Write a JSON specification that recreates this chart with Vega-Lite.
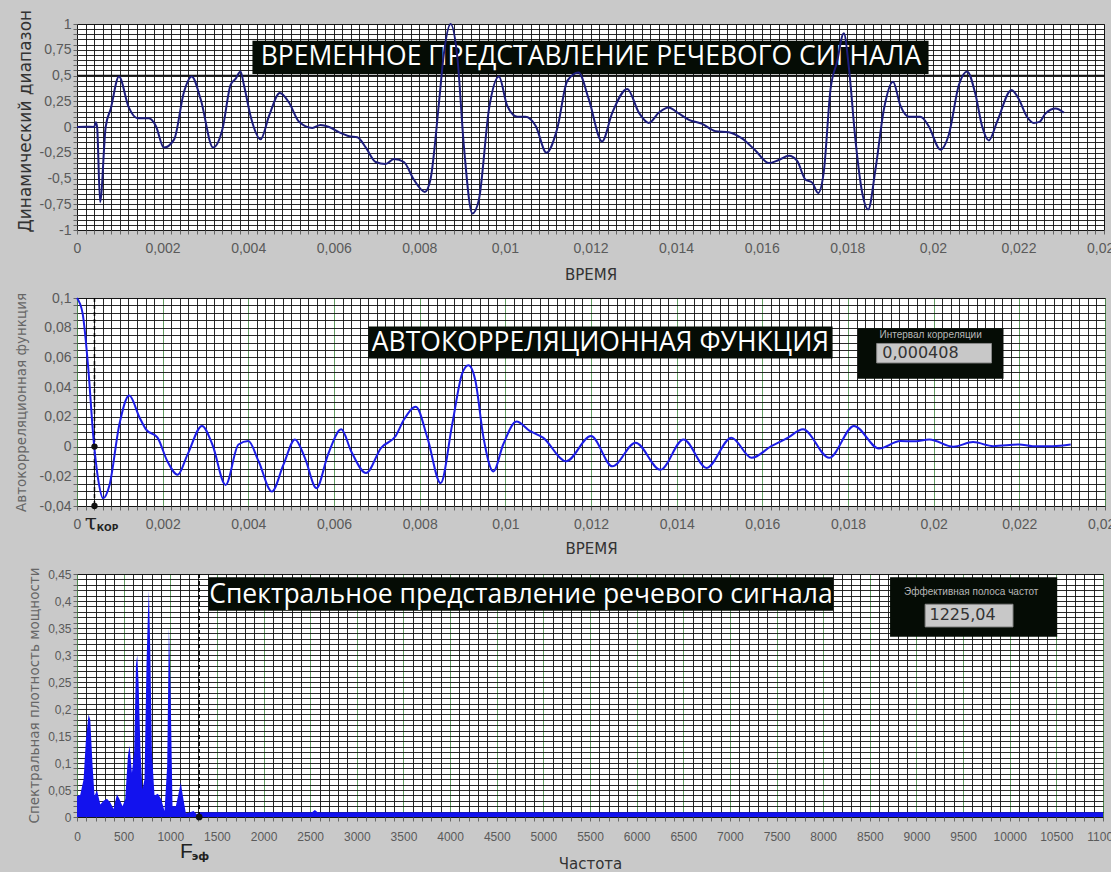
{
  "$schema": "https://vega.github.io/schema/vega-lite/v6.json",
  "background": "#c9c9c9",
  "padding": {"left": 13, "top": 8, "right": 0, "bottom": 0},
  "bounds": "flush",
  "spacing": 68,
  "config": {
    "view": {"fill": "white", "stroke": "#444", "strokeWidth": 1},
    "axis": {
      "grid": true, "gridColor": "#111", "gridOpacity": 0.9, "gridWidth": 1,
      "domain": false, "tickColor": "#666", "tickSize": 4, "labelPadding": 7,
      "labelColor": "#5a5a5a", "labelFont": "Liberation Sans", "labelFontSize": 14,
      "titleFont": "DejaVu Sans", "titleColor": "#333", "titleFontWeight": "normal", "titleFontSize": 15,
      "labelOverlap": false, "labelFlush": false, "labelBound": false
    },
    "text": {"font": "Open Sans"}
  },
  "datasets": {
    "wave": [
      {"t": 0, "v": 0}, {"t": 0.0002, "v": 0.003}, {"t": 0.0004, "v": 0.0}, {"t": 0.00044, "v": 0.046}, {"t": 0.00047, "v": 0.0},
      {"t": 0.00054, "v": -0.73}, {"t": 0.00067, "v": 0.0}, {"t": 0.00079, "v": 0.18}, {"t": 0.00098, "v": 0.49}, {"t": 0.00121, "v": 0.19},
      {"t": 0.00141, "v": 0.085}, {"t": 0.00168, "v": 0.085}, {"t": 0.00184, "v": 0.013}, {"t": 0.00203, "v": -0.2}, {"t": 0.00227, "v": -0.12},
      {"t": 0.0025, "v": 0.34}, {"t": 0.00268, "v": 0.49}, {"t": 0.00289, "v": 0.27}, {"t": 0.00318, "v": -0.2}, {"t": 0.0034, "v": -0.02},
      {"t": 0.00359, "v": 0.41}, {"t": 0.00371, "v": 0.47}, {"t": 0.00382, "v": 0.54}, {"t": 0.0039, "v": 0.41}, {"t": 0.00406, "v": 0.1},
      {"t": 0.00429, "v": -0.12}, {"t": 0.00449, "v": 0.11}, {"t": 0.00474, "v": 0.33}, {"t": 0.00495, "v": 0.24}, {"t": 0.00519, "v": 0.05},
      {"t": 0.0055, "v": -0.01}, {"t": 0.00569, "v": 0.02}, {"t": 0.00589, "v": 0.0}, {"t": 0.00612, "v": -0.05}, {"t": 0.00636, "v": -0.09},
      {"t": 0.00655, "v": -0.1}, {"t": 0.00675, "v": -0.2}, {"t": 0.00698, "v": -0.34}, {"t": 0.00721, "v": -0.36}, {"t": 0.00741, "v": -0.31},
      {"t": 0.00764, "v": -0.34}, {"t": 0.00787, "v": -0.51}, {"t": 0.00813, "v": -0.63}, {"t": 0.00826, "v": -0.51}, {"t": 0.00846, "v": 0.24},
      {"t": 0.00857, "v": 0.7}, {"t": 0.00873, "v": 1.0}, {"t": 0.00889, "v": 0.67}, {"t": 0.00904, "v": -0.18}, {"t": 0.00924, "v": -0.84},
      {"t": 0.00939, "v": -0.71}, {"t": 0.00963, "v": 0.18}, {"t": 0.00986, "v": 0.49}, {"t": 0.01005, "v": 0.21}, {"t": 0.01029, "v": 0.1},
      {"t": 0.01048, "v": 0.1}, {"t": 0.01072, "v": 0.01}, {"t": 0.01097, "v": -0.25}, {"t": 0.01122, "v": -0.02}, {"t": 0.01146, "v": 0.45},
      {"t": 0.01172, "v": 0.53}, {"t": 0.01196, "v": 0.27}, {"t": 0.01227, "v": -0.14}, {"t": 0.01251, "v": 0.14}, {"t": 0.01286, "v": 0.37},
      {"t": 0.01313, "v": 0.14}, {"t": 0.01336, "v": 0.04}, {"t": 0.0136, "v": 0.14}, {"t": 0.01382, "v": 0.19}, {"t": 0.01407, "v": 0.13},
      {"t": 0.0143, "v": 0.07}, {"t": 0.01461, "v": 0.03}, {"t": 0.01492, "v": -0.04}, {"t": 0.01523, "v": -0.05}, {"t": 0.01554, "v": -0.11},
      {"t": 0.01586, "v": -0.23}, {"t": 0.01617, "v": -0.35}, {"t": 0.0164, "v": -0.32}, {"t": 0.01664, "v": -0.28}, {"t": 0.01683, "v": -0.33},
      {"t": 0.01702, "v": -0.51}, {"t": 0.01718, "v": -0.54}, {"t": 0.01732, "v": -0.64}, {"t": 0.01745, "v": -0.44}, {"t": 0.01761, "v": 0.37},
      {"t": 0.01776, "v": 0.63}, {"t": 0.01792, "v": 0.91}, {"t": 0.01804, "v": 0.57}, {"t": 0.01819, "v": -0.12}, {"t": 0.01835, "v": -0.64},
      {"t": 0.01849, "v": -0.8}, {"t": 0.01866, "v": -0.41}, {"t": 0.01886, "v": 0.18}, {"t": 0.01907, "v": 0.44}, {"t": 0.01924, "v": 0.21},
      {"t": 0.01944, "v": 0.1}, {"t": 0.01971, "v": 0.1}, {"t": 0.0199, "v": 0.01}, {"t": 0.02018, "v": -0.22}, {"t": 0.02037, "v": -0.08},
      {"t": 0.02061, "v": 0.41}, {"t": 0.0208, "v": 0.54}, {"t": 0.021, "v": 0.31}, {"t": 0.02115, "v": 0.01}, {"t": 0.02131, "v": -0.13},
      {"t": 0.0215, "v": 0.05}, {"t": 0.02184, "v": 0.36}, {"t": 0.02201, "v": 0.27}, {"t": 0.0222, "v": 0.1}, {"t": 0.02236, "v": 0.04},
      {"t": 0.02249, "v": 0.05}, {"t": 0.02263, "v": 0.13}, {"t": 0.02287, "v": 0.18}, {"t": 0.02306, "v": 0.14}
    ],
    "acf": [
      {"t": 0, "v": 0.1}, {"t": 0.00013, "v": 0.0898}, {"t": 0.00026, "v": 0.0536}, {"t": 0.00039, "v": 0.0037}, {"t": 0.00049, "v": -0.0212},
      {"t": 0.00061, "v": -0.0348}, {"t": 0.00076, "v": -0.0258}, {"t": 0.00099, "v": 0.015}, {"t": 0.00122, "v": 0.0343}, {"t": 0.00146, "v": 0.0196},
      {"t": 0.00161, "v": 0.0116}, {"t": 0.00188, "v": 0.006}, {"t": 0.00211, "v": -0.0099}, {"t": 0.00235, "v": -0.019}, {"t": 0.00258, "v": -0.0054},
      {"t": 0.00292, "v": 0.0139}, {"t": 0.00316, "v": 0.0014}, {"t": 0.00347, "v": -0.0258}, {"t": 0.00377, "v": 0.0014}, {"t": 0.004, "v": 0.0037},
      {"t": 0.00424, "v": -0.0099}, {"t": 0.00455, "v": -0.0303}, {"t": 0.00482, "v": -0.0122}, {"t": 0.00509, "v": 0.0048}, {"t": 0.00532, "v": -0.0076},
      {"t": 0.00559, "v": -0.028}, {"t": 0.00586, "v": -0.0054}, {"t": 0.00617, "v": 0.0116}, {"t": 0.0064, "v": -0.0031}, {"t": 0.00675, "v": -0.0178},
      {"t": 0.0071, "v": -0.0008}, {"t": 0.00744, "v": 0.0071}, {"t": 0.00764, "v": 0.0185}, {"t": 0.00791, "v": 0.0268}, {"t": 0.00818, "v": 0.006},
      {"t": 0.00849, "v": -0.0246}, {"t": 0.00876, "v": 0.015}, {"t": 0.00899, "v": 0.049}, {"t": 0.00914, "v": 0.0547}, {"t": 0.0093, "v": 0.0445},
      {"t": 0.00949, "v": 0.006}, {"t": 0.00972, "v": -0.0167}, {"t": 0.00995, "v": 0.0014}, {"t": 0.01026, "v": 0.0168}, {"t": 0.01057, "v": 0.0105},
      {"t": 0.01088, "v": 0.006}, {"t": 0.01142, "v": -0.0099}, {"t": 0.012, "v": 0.0071}, {"t": 0.0125, "v": -0.0133}, {"t": 0.01304, "v": 0.0026},
      {"t": 0.01362, "v": -0.0156}, {"t": 0.01416, "v": 0.0048}, {"t": 0.0147, "v": -0.0144}, {"t": 0.01528, "v": 0.006}, {"t": 0.01575, "v": -0.0076},
      {"t": 0.01621, "v": 0.0003}, {"t": 0.0166, "v": 0.006}, {"t": 0.01695, "v": 0.0116}, {"t": 0.01756, "v": -0.0076}, {"t": 0.01814, "v": 0.0139},
      {"t": 0.01872, "v": -0.0013}, {"t": 0.01922, "v": 0.0037}, {"t": 0.01953, "v": 0.0035}, {"t": 0.0199, "v": 0.0048}, {"t": 0.02046, "v": -0.0001},
      {"t": 0.02092, "v": 0.003}, {"t": 0.02139, "v": 0.0003}, {"t": 0.022, "v": 0.0014}, {"t": 0.02231, "v": 0.0003}, {"t": 0.02278, "v": 0.0003},
      {"t": 0.0232, "v": 0.0014}
    ],
    "acfmarks": [{"t": 0.000408, "v": 0}, {"t": 0.000408, "v": -0.04}],
    "spec": [
      {"f": 0, "v": 0.039}, {"f": 35, "v": 0.041}, {"f": 71, "v": 0.07}, {"f": 96, "v": 0.145}, {"f": 124, "v": 0.19},
      {"f": 142, "v": 0.18}, {"f": 167, "v": 0.095}, {"f": 188, "v": 0.039}, {"f": 214, "v": 0.05}, {"f": 250, "v": 0.023},
      {"f": 285, "v": 0.03}, {"f": 321, "v": 0.034}, {"f": 357, "v": 0.027}, {"f": 392, "v": 0.015}, {"f": 428, "v": 0.042},
      {"f": 456, "v": 0.033}, {"f": 488, "v": 0.02}, {"f": 517, "v": 0.033}, {"f": 546, "v": 0.113}, {"f": 563, "v": 0.132},
      {"f": 589, "v": 0.082}, {"f": 613, "v": 0.12}, {"f": 632, "v": 0.282}, {"f": 646, "v": 0.3}, {"f": 660, "v": 0.25},
      {"f": 681, "v": 0.12}, {"f": 702, "v": 0.051}, {"f": 724, "v": 0.07}, {"f": 745, "v": 0.282}, {"f": 760, "v": 0.375},
      {"f": 771, "v": 0.419}, {"f": 785, "v": 0.313}, {"f": 803, "v": 0.12}, {"f": 831, "v": 0.04}, {"f": 867, "v": 0.043},
      {"f": 903, "v": 0.033}, {"f": 938, "v": 0.011}, {"f": 967, "v": 0.095}, {"f": 985, "v": 0.35}, {"f": 1002, "v": 0.25},
      {"f": 1024, "v": 0.02}, {"f": 1060, "v": 0.02}, {"f": 1088, "v": 0.043}, {"f": 1113, "v": 0.064}, {"f": 1135, "v": 0.039},
      {"f": 1167, "v": 0.007}, {"f": 1213, "v": 0.009}, {"f": 1249, "v": 0.011}, {"f": 1285, "v": 0.005}, {"f": 1310, "v": 0.009},
      {"f": 2000, "v": 0.009}, {"f": 2520, "v": 0.009}, {"f": 2550, "v": 0.013}, {"f": 2580, "v": 0.009}, {"f": 4000, "v": 0.009},
      {"f": 6000, "v": 0.009}, {"f": 8000, "v": 0.009}, {"f": 11000, "v": 0.009}
    ],
    "specmarks": [{"f": 1310, "v": 0}]
  },
  "vconcat": [
    {
      "width": 1027, "height": 206,
      "layer": [
        {"data": {"values": [{}]}, "mark": {"type": "rule", "color": "#111", "strokeWidth": 1.5},
         "encoding": {"y": {"datum": 0.5, "type": "quantitative"}}},
        {"data": {"values": [{}]}, "mark": {"type": "rect", "color": "#050c05"},
         "encoding": {"x": {"datum": 0.0041, "type": "quantitative"}, "x2": {"datum": 0.0199}, "y": {"datum": 0.838, "type": "quantitative"}, "y2": {"datum": 0.515}}},
        {"data": {"values": [{}]}, "mark": {"type": "text", "text": "ВРЕМЕННОЕ ПРЕДСТАВЛЕНИЕ РЕЧЕВОГО СИГНАЛА", "color": "white", "fontSize": 26.5, "align": "center", "baseline": "middle"},
         "encoding": {"x": {"datum": 0.01201, "type": "quantitative"}, "y": {"datum": 0.675, "type": "quantitative"}}},
        {"data": {"name": "wave"}, "mark": {"type": "line", "color": "#1c1c7c", "strokeWidth": 2, "interpolate": "monotone"},
         "encoding": {
           "x": {"field": "t", "type": "quantitative", "scale": {"domain": [0, 0.024], "nice": false, "zero": false},
                 "axis": {"title": "ВРЕМЯ", "tickCount": 120, "titlePadding": 12,
                          "labelExpr": "abs(datum.value*500 - round(datum.value*500)) < 1e-6 ? replace(toString(datum.value), '.', ',') : ''"}},
           "y": {"field": "v", "type": "quantitative", "scale": {"domain": [-1, 1], "nice": false},
                 "axis": {"title": "Динамический диапазон", "tickCount": 40, "labelPadding": 2, "titleFontSize": 17,
                          "titleX": -52, "titleY": 208, "titleAlign": "left", "titleBaseline": "middle", "titleAngle": -90,
                          "labelExpr": "abs(datum.value*4 - round(datum.value*4)) < 1e-6 ? replace(toString(datum.value), '.', ',') : ''"}}
         }}
      ]
    },
    {
      "width": 1028, "height": 208,
      "layer": [
        {"data": {"values": [{}]}, "mark": {"type": "rule", "color": "#000", "strokeWidth": 1.5, "strokeDash": [4, 3]},
         "encoding": {"x": {"datum": 0.000408, "type": "quantitative"}}},
        {"data": {"values": [{}]}, "mark": {"type": "rect", "color": "#050c05"},
         "encoding": {"x": {"datum": 0.0068, "type": "quantitative"}, "x2": {"datum": 0.01764}, "y": {"datum": 0.0808, "type": "quantitative"}, "y2": {"datum": 0.0592}}},
        {"data": {"values": [{}]}, "mark": {"type": "text", "text": "АВТОКОРРЕЛЯЦИОННАЯ ФУНКЦИЯ", "color": "white", "fontSize": 26.5, "align": "center", "baseline": "middle"},
         "encoding": {"x": {"datum": 0.01222, "type": "quantitative"}, "y": {"datum": 0.0698, "type": "quantitative"}}},
        {"data": {"values": [{}]}, "mark": {"type": "rect", "color": "#050c05"},
         "encoding": {"x": {"datum": 0.01823, "type": "quantitative"}, "x2": {"datum": 0.02163}, "y": {"datum": 0.0796, "type": "quantitative"}, "y2": {"datum": 0.0456}}},
        {"data": {"values": [{}]}, "mark": {"type": "text", "text": "Интервал корреляции", "color": "#b8b8b8", "fontSize": 10, "font": "Liberation Sans", "align": "center", "baseline": "middle"},
         "encoding": {"x": {"datum": 0.01993, "type": "quantitative"}, "y": {"datum": 0.0748, "type": "quantitative"}}},
        {"data": {"values": [{}]}, "mark": {"type": "rect", "color": "#c8c8c8", "stroke": "#888", "strokeWidth": 1},
         "encoding": {"x": {"datum": 0.01867, "type": "quantitative"}, "x2": {"datum": 0.02135}, "y": {"datum": 0.0694, "type": "quantitative"}, "y2": {"datum": 0.0563}}},
        {"data": {"values": [{}]}, "mark": {"type": "text", "text": "0,000408", "color": "#333", "fontSize": 16, "font": "DejaVu Sans", "align": "left", "baseline": "middle"},
         "encoding": {"x": {"datum": 0.0188, "type": "quantitative"}, "y": {"datum": 0.0628, "type": "quantitative"}}},
        {"data": {"values": [{}]}, "mark": {"type": "text", "text": "τ", "color": "#222", "fontSize": 22, "font": "DejaVu Serif", "align": "center", "baseline": "middle"},
         "encoding": {"x": {"datum": 0.00032, "type": "quantitative"}, "y": {"datum": -0.0515, "type": "quantitative"}}},
        {"data": {"values": [{}]}, "mark": {"type": "text", "text": "КОР", "color": "#222", "fontSize": 9, "fontWeight": "bold", "font": "DejaVu Sans", "align": "left", "baseline": "middle"},
         "encoding": {"x": {"datum": 0.00046, "type": "quantitative"}, "y": {"datum": -0.0545, "type": "quantitative"}}},
        {"data": {"name": "acf"}, "mark": {"type": "line", "color": "#1c1ce6", "strokeWidth": 2, "interpolate": "monotone"},
         "encoding": {
           "x": {"field": "t", "type": "quantitative", "scale": {"domain": [0, 0.024], "nice": false, "zero": false},
                 "axis": {"title": "ВРЕМЯ", "tickCount": 120, "titlePadding": 10,
                          "gridColor": {"condition": {"test": "abs(datum.value*500 - round(datum.value*500)) < 1e-6", "value": "#4f8f4f"}, "value": "#111"},
                          "labelExpr": "abs(datum.value*500 - round(datum.value*500)) < 1e-6 ? replace(toString(datum.value), '.', ',') : ''"}},
           "y": {"field": "v", "type": "quantitative", "scale": {"domain": [-0.04, 0.1], "nice": false, "zero": false},
                 "axis": {"title": "Автокорреляционная функция", "tickCount": 28, "labelPadding": 2, "titleFontSize": 13.5, "titleColor": "#666",
                          "titleX": -56, "titleY": 104, "titleAlign": "center", "titleBaseline": "middle", "titleAngle": -90,
                          "labelExpr": "abs(datum.value*50 - round(datum.value*50)) < 1e-6 ? replace(toString(datum.value), '.', ',') : ''"}}
         }},
        {"data": {"name": "acfmarks"}, "mark": {"type": "point", "filled": true, "color": "#111", "size": 40, "opacity": 1},
         "encoding": {"x": {"field": "t", "type": "quantitative"}, "y": {"field": "v", "type": "quantitative"}}}
      ]
    },
    {
      "width": 1026, "height": 243,
      "layer": [
        {"data": {"name": "spec"}, "mark": {"type": "area", "color": "#1212ee", "opacity": 1, "interpolate": "linear"},
         "encoding": {
           "x": {"field": "f", "type": "quantitative", "scale": {"domain": [0, 11000], "nice": false, "zero": false},
                 "axis": {"title": "Частота", "tickCount": 110, "labelFontSize": 12, "labelPadding": 10, "titlePadding": 14,
                          "gridColor": {"condition": {"test": "datum.value % 500 === 0", "value": "#4f8f4f"}, "value": "#111"},
                          "labelExpr": "datum.value % 500 === 0 ? toString(datum.value) : ''"}},
           "y": {"field": "v", "type": "quantitative", "scale": {"domain": [0, 0.45], "nice": false},
                 "axis": {"title": "Спектральная плотность мощности", "tickCount": 45, "labelFontSize": 12, "labelPadding": 2, "titleFontSize": 13.5, "titleColor": "#666",
                          "titleX": -43, "titleY": 121, "titleAlign": "center", "titleBaseline": "middle", "titleAngle": -90,
                          "labelExpr": "abs(datum.value*20 - round(datum.value*20)) < 1e-6 ? replace(toString(datum.value), '.', ',') : ''"}}
         }},
        {"data": {"values": [{}]}, "mark": {"type": "rule", "color": "#000", "strokeWidth": 1.5, "strokeDash": [4, 3]},
         "encoding": {"x": {"datum": 1310, "type": "quantitative"}}},
        {"data": {"name": "specmarks"}, "mark": {"type": "point", "filled": true, "color": "#111", "size": 45, "opacity": 1},
         "encoding": {"x": {"field": "f", "type": "quantitative"}, "y": {"field": "v", "type": "quantitative"}}},
        {"data": {"values": [{}]}, "mark": {"type": "rect", "color": "#050c05"},
         "encoding": {"x": {"datum": 1409, "type": "quantitative"}, "x2": {"datum": 8108}, "y": {"datum": 0.444, "type": "quantitative"}, "y2": {"datum": 0.382}}},
        {"data": {"values": [{}]}, "mark": {"type": "text", "text": "Спектральное представление речевого сигнала", "color": "white", "fontSize": 26.5, "align": "center", "baseline": "middle"},
         "encoding": {"x": {"datum": 4760, "type": "quantitative"}, "y": {"datum": 0.412, "type": "quantitative"}}},
        {"data": {"values": [{}]}, "mark": {"type": "rect", "color": "#050c05"},
         "encoding": {"x": {"datum": 8717, "type": "quantitative"}, "x2": {"datum": 10509}, "y": {"datum": 0.444, "type": "quantitative"}, "y2": {"datum": 0.334}}},
        {"data": {"values": [{}]}, "mark": {"type": "text", "text": "Эффективная полоса частот", "color": "#b8b8b8", "fontSize": 10, "font": "Liberation Sans", "align": "center", "baseline": "middle"},
         "encoding": {"x": {"datum": 9587, "type": "quantitative"}, "y": {"datum": 0.417, "type": "quantitative"}}},
        {"data": {"values": [{}]}, "mark": {"type": "rect", "color": "#c8c8c8", "stroke": "#888", "strokeWidth": 1},
         "encoding": {"x": {"datum": 9093, "type": "quantitative"}, "x2": {"datum": 10035}, "y": {"datum": 0.394, "type": "quantitative"}, "y2": {"datum": 0.352}}},
        {"data": {"values": [{}]}, "mark": {"type": "text", "text": "1225,04", "color": "#333", "fontSize": 16, "font": "DejaVu Sans", "align": "left", "baseline": "middle"},
         "encoding": {"x": {"datum": 9140, "type": "quantitative"}, "y": {"datum": 0.374, "type": "quantitative"}}},
        {"data": {"values": [{}]}, "mark": {"type": "text", "text": "F", "color": "#222", "fontSize": 21, "font": "Liberation Sans", "align": "center", "baseline": "middle"},
         "encoding": {"x": {"datum": 1172, "type": "quantitative"}, "y": {"datum": -0.064, "type": "quantitative"}}},
        {"data": {"values": [{}]}, "mark": {"type": "text", "text": "эф", "color": "#222", "fontSize": 11, "fontWeight": "bold", "font": "DejaVu Sans", "align": "left", "baseline": "middle"},
         "encoding": {"x": {"datum": 1230, "type": "quantitative"}, "y": {"datum": -0.074, "type": "quantitative"}}}
      ]
    }
  ]
}
